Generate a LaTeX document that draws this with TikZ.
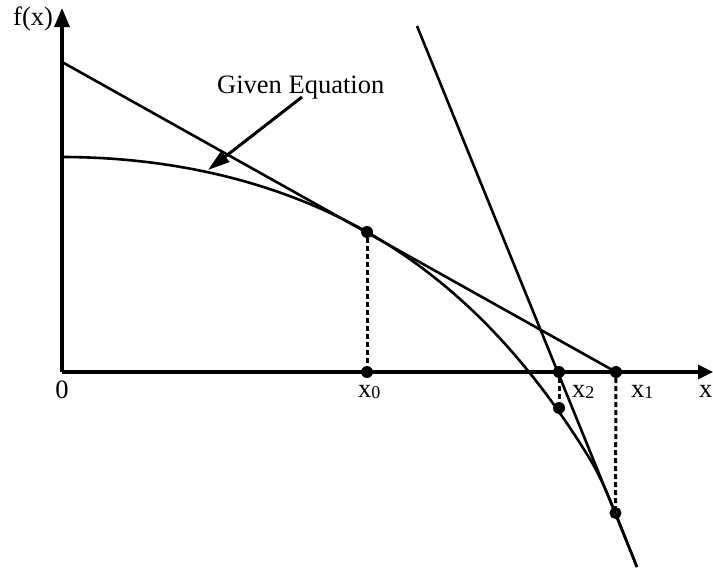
\documentclass[tikz,border=0pt]{standalone}
\usepackage{fontspec}
\setmainfont{Liberation Serif}
\usetikzlibrary{arrows.meta}
\tikzset{
  dot/.style={circle,fill=black,inner sep=0pt,minimum size=12pt},
  ring/.style={circle,draw=black,line width=3.8pt,inner sep=0pt,minimum size=8pt},
  axisline/.style={line width=3.2pt},
  graphline/.style={line width=2.6pt},
  dropline/.style={line width=3pt,dash pattern=on 5pt off 3pt},
  lbl/.style={font=\fontsize{26.5}{30}\selectfont,inner sep=0pt},
}
\newcommand{\subsc}[1]{\raisebox{-1.5pt}{\fontsize{18}{18}\selectfont #1}}
\begin{document}
\begin{tikzpicture}[x=1pt,y=-1pt]
\useasboundingbox (0,0) rectangle (713,570);
% axes
\coordinate (O) at (62,372);
\coordinate (ytop) at (62,8);
\coordinate (xend) at (713,372);
\draw[axisline,-{Triangle[length=19pt,width=15pt]}] (O) -- (ytop);
\draw[axisline,-{Triangle[length=15pt,width=14pt]}] (O) -- (xend);
\node[lbl,anchor=base west] (fx) at (13,26) {f(x)};
\node[lbl,anchor=base] (zero) at (62,398) {0};
\node[lbl,anchor=base east] (xlab) at (712.5,397) {x};
% curve
\draw[graphline] plot[domain=62:590,samples=80,smooth] (\x,{157+68.2*(0.5*(exp(0.0045*(\x-62))+exp(-0.0045*(\x-62)))-1)})
  .. controls (605.7,484.7) and (621.3,528.6) .. (637,567);
% points
\node[dot] (p0) at (367,232) {};
\node[dot] (a0) at (367,372) {};
\node[dot] (a2) at (559,372) {};
\node[dot] (a1) at (616,372) {};
\node[dot] (p2) at (559,408) {};
\node[ring] (p1) at (615.5,513) {};
% tangent lines
\coordinate (t1s) at (62,62);
\draw[graphline] (t1s) -- (a1.center);
\coordinate (t2s) at (417,26);
\coordinate (t2e) at (637,567);
\draw[graphline] (t2s) -- (t2e);
% drop lines
\draw[dropline] (p0) -- (a0);
\draw[dropline] (a2) -- (p2);
\draw[dropline] (a1) -- (p1);
% labels
\node[lbl,anchor=base west] (x0) at (358,397) {x\subsc{0}};
\node[lbl,anchor=base west] (x2) at (572,397) {x\subsc{2}};
\node[lbl,anchor=base west] (x1) at (631,397) {x\subsc{1}};
% given equation
\node[lbl,anchor=base west] (ge) at (217,93) {Given Equation};
\coordinate (gs) at (302,97);
\coordinate (gt) at (208,170);
\draw[line width=3pt,-{Triangle[length=22pt,width=13pt]}] (gs) -- (gt);
\end{tikzpicture}
\end{document}
